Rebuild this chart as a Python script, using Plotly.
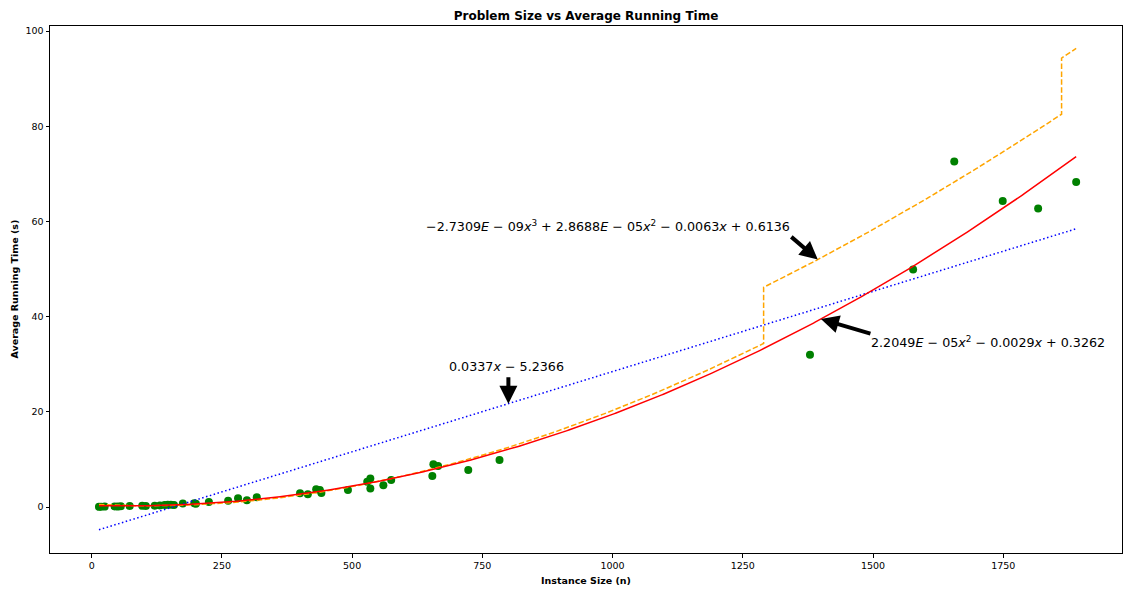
import numpy as np
import plotly.graph_objects as go

# ---- data ----
sizes = [14, 18, 25, 44, 50, 56, 73, 97, 104, 121, 131, 140, 146, 152, 158,
         175, 197, 200, 225, 262, 281, 298, 317, 400, 415, 431, 438, 441, 492,
         529, 535, 535, 560, 575, 654, 656, 665, 723, 783, 1379, 1577, 1656,
         1749, 1817, 1890]
times = [0.05, 0.08, 0.1, 0.12, 0.1, 0.15, 0.2, 0.25, 0.22, 0.3, 0.35, 0.45, 0.5, 0.48, 0.45,
         0.75, 0.8, 0.7, 1.05, 1.35, 1.85, 1.45, 2.05, 2.9, 2.7, 3.75, 3.6, 2.95, 3.6,
         5.3, 6.0, 3.9, 4.6, 5.7, 6.5, 9.0, 8.6, 7.8, 9.9, 32.0, 49.9, 72.6,
         64.3, 62.7, 68.3]

# fitted polynomial coefficients (highest power first), as printed on the chart
lin_coef = [0.0337, -5.2366]
quad_coef = [2.2049e-05, -0.0029, 0.3262]
cubic_coef = [-2.7309e-09, 2.8688e-05, -0.0063, 0.6136]
# the dashed cubic curve shows two upward jumps
cubic_jump_x = [1290, 1862]
cubic_jump_size = [11.8, 11.8]

x_ticks = [0, 250, 500, 750, 1000, 1250, 1500, 1750]
y_ticks = [0, 20, 40, 60, 80, 100]

lin_label = "0.0337<i>x</i> − 5.2366"
quad_label = "2.2049<i>E</i> − 05<i>x</i><sup>2</sup> − 0.0029<i>x</i> + 0.3262"
cubic_label = ("−2.7309<i>E</i> − 09<i>x</i><sup>3</sup> + 2.8688<i>E</i> − 05<i>x</i><sup>2</sup>"
               " − 0.0063<i>x</i> + 0.6136")

# ---- build curves ----
xmin, xmax = min(sizes), max(sizes)
xs = np.linspace(xmin, xmax, 600)
lin_y = np.polyval(lin_coef, xs)
quad_y = np.polyval(quad_coef, xs)

bounds = [xmin] + cubic_jump_x + [xmax]
cub_x, cub_y = [], []
offset = 0.0
for i in range(len(bounds) - 1):
    seg = np.linspace(bounds[i], bounds[i + 1], 200)
    cub_x.extend(seg.tolist())
    cub_y.extend((np.polyval(cubic_coef, seg) + offset).tolist())
    if i < len(cubic_jump_size):
        offset += cubic_jump_size[i]


def cubic_curve(x):
    off = sum(s for jx, s in zip(cubic_jump_x, cubic_jump_size) if x > jx)
    return float(np.polyval(cubic_coef, x)) + off


FONT = "DejaVu Sans"
W, H = 1123, 590
L, R, T, B = 50, 1122, 26, 553  # plot area edges in pixels
pw, ph = R - L, B - T

fig = go.Figure()
fig.add_trace(go.Scatter(x=sizes, y=times, mode="markers",
                         marker=dict(color="green", size=8), showlegend=False))
fig.add_trace(go.Scatter(x=xs, y=lin_y, mode="lines",
                         line=dict(color="blue", width=1.5, dash="1.5px,2.5px"),
                         showlegend=False))
fig.add_trace(go.Scatter(x=cub_x, y=cub_y, mode="lines",
                         line=dict(color="orange", width=1.5, dash="5.5px,2.4px"),
                         showlegend=False))
fig.add_trace(go.Scatter(x=xs, y=quad_y, mode="lines",
                         line=dict(color="red", width=1.5), showlegend=False))

ann_font = dict(family=FONT, size=12.7, color="black")
annotations = []
arrow_style = dict(text="", showarrow=True, arrowhead=2, arrowsize=0.9,
                   arrowwidth=4, arrowcolor="black", xref="x", yref="y")
lin_tip = 800
quad_tip = 1400
cub_tip = 1394
annotations.append(dict(x=lin_tip, y=float(np.polyval(lin_coef, lin_tip)),
                        ax=0, ay=-28, **arrow_style))
annotations.append(dict(x=cub_tip, y=cubic_curve(cub_tip),
                        ax=-28, ay=-24, **arrow_style))
annotations.append(dict(x=quad_tip, y=float(np.polyval(quad_coef, quad_tip)),
                        ax=51, ay=15, **arrow_style))
annotations.append(dict(x=797, y=29.5, xref="x", yref="y", text=lin_label,
                        showarrow=False, font=ann_font, xanchor="center", yanchor="middle"))
annotations.append(dict(x=992, y=59.1, xref="x", yref="y", text=cubic_label,
                        showarrow=False, font=ann_font, xanchor="center", yanchor="middle"))
annotations.append(dict(x=1721, y=34.6, xref="x", yref="y", text=quad_label,
                        showarrow=False, font=ann_font, xanchor="center", yanchor="middle"))
# axis titles (paper coords are relative to the plot area)
annotations.append(dict(x=0.5, y=(B - 580) / ph, xref="paper", yref="paper",
                        text="<b>Instance Size (n)</b>", showarrow=False,
                        font=dict(family=FONT, size=9.5, color="black"),
                        xanchor="center", yanchor="middle"))
annotations.append(dict(x=(14 - L) / pw, y=0.5, xref="paper", yref="paper",
                        text="<b>Average Running Time (s)</b>", showarrow=False, textangle=-90,
                        font=dict(family=FONT, size=9.5, color="black"),
                        xanchor="center", yanchor="middle"))

axis_common = dict(showline=True, mirror=True, linecolor="black", linewidth=1,
                   ticks="outside", ticklen=3.5, tickwidth=1, tickcolor="black",
                   showgrid=False, zeroline=False, automargin=False,
                   tickfont=dict(family=FONT, size=9.5, color="black"))

fig.update_layout(
    width=W, height=H,
    margin=dict(l=L, r=W - R, t=T, b=H - B, autoexpand=False),
    paper_bgcolor="white", plot_bgcolor="white",
    title=dict(text="<b>Problem Size vs Average Running Time</b>",
               font=dict(family=FONT, size=12, color="black"),
               x=(L + R) / 2 / W, xanchor="center", y=1 - 16 / H, yanchor="middle"),
    xaxis=dict(range=[-80, 1978], tickvals=x_ticks,
               ticktext=[str(v) for v in x_ticks], **axis_common),
    yaxis=dict(range=[-9.65, 101.05], tickvals=y_ticks,
               ticktext=[str(v) for v in y_ticks], **axis_common),
    annotations=annotations,
    font=dict(family=FONT),
)

fig.write_html("out.html", config={"displayModeBar": False},
               post_script="document.body.style.margin='0';document.body.style.overflow='hidden';")
